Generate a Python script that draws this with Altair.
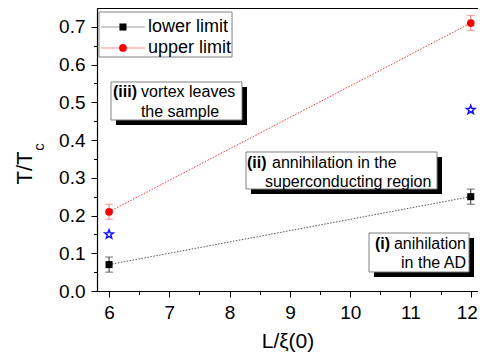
import math
import altair as alt
import pandas as pd

# ---------------- data ----------------
L = [6, 12]
lower = [0.07, 0.25]
lower_err = [0.02, 0.02]
upper = [0.21, 0.71]
upper_err = [0.02, 0.02]
star = [0.15, 0.48]
series_names = ["lower limit", "upper limit"]

x_tick_values = [6 + 0.5 * i for i in range(13)]
y_tick_values = [round(0.05 * i, 2) for i in range(15)]

# annotation boxes (data coordinates)
box_x = [5.833, 6.032, 8.272, 10.312]
box_x2 = [8.040, 8.205, 11.440, 11.971]
box_y = [0.7394, 0.5539, 0.3684, 0.1537]
box_y2 = [0.6201, 0.4532, 0.2703, 0.0504]
box_shadow = [False, True, True, True]

# annotation texts
txt = ["(iii)", "vortex leaves", "the sample",
       "(ii)", "annihilation in the", "superconducting region",
       "(i)", "anihilation", "in the AD",
       "lower limit", "upper limit"]
txt_x = [6.065, 6.530, 7.177, 8.288, 8.703, 8.587, 10.412, 11.921, 11.921, 6.646, 6.646]
txt_y = [0.5274, 0.5274, 0.4744, 0.3392, 0.3392, 0.2889, 0.1246, 0.1246, 0.0742, 0.6996, 0.644]
txt_align = ["left", "left", "center", "left", "left", "left", "left", "right", "right", "left", "left"]
txt_weight = ["bold", "normal", "normal", "bold", "normal", "normal", "bold", "normal", "normal", "normal", "normal"]
txt_size = [16, 16, 16, 16, 16, 16, 16, 16, 16, 18, 18]

# legend sample geometry
leg_y = [0.6996, 0.644]
leg_x0 = 5.866
leg_x1 = 6.596
leg_xm = 6.231

FONT = "Liberation Sans"

# five-pointed star symbol path (unit size)
pts = []
for k in range(10):
    r = 1.0 if k % 2 == 0 else 0.42
    a = -math.pi / 2 + k * math.pi / 5
    pts.append(f"{r * math.cos(a):.3f},{r * math.sin(a):.3f}")
STAR = "M" + " L".join(pts) + " Z"

xs = alt.Scale(domain=[5.8, 12.12], nice=False, zero=False)
ys = alt.Scale(domain=[0, 0.75], nice=False, zero=False)

xaxis = alt.Axis(
    values=x_tick_values, orient="bottom",
    labelExpr="datum.value % 1 === 0 ? format(datum.value, 'd') : ''",
    tickSize={"condition": {"test": "datum.value % 1 === 0", "value": 6}, "value": 3.5},
    labelOffset={"condition": {"test": "datum.value >= 12", "value": -4}, "value": 0},
    title="L/ξ(0)", titleFont=FONT, titleFontSize=21, titleFontWeight="normal",
    titleColor="black", titlePadding=8,
    labelFont=FONT, labelFontSize=19, labelColor="black", labelPadding=6,
    labelFlush=False, labelOverlap=False,
    domainColor="black", domainWidth=1.2, tickColor="black", tickWidth=1, grid=False,
)
yaxis = alt.Axis(
    values=y_tick_values, orient="left",
    labelExpr="abs(datum.value*10 - round(datum.value*10)) < 0.001 ? format(datum.value, '.1f') : ''",
    tickSize={"condition": {"test": "abs(datum.value*10 - round(datum.value*10)) < 0.001", "value": 6},
              "value": 3.5},
    title=None,
    labelFont=FONT, labelFontSize=19, labelColor="black", labelPadding=6,
    labelFlush=False, labelOverlap=False,
    domainColor="black", domainWidth=1.2, tickColor="black", tickWidth=1, grid=False,
)

X = alt.X("x:Q", scale=xs, axis=xaxis)


def Y(field="y"):
    return alt.Y(f"{field}:Q", scale=ys, axis=yaxis)


layers = []

# boxes
boxes = pd.DataFrame({"x": box_x, "x2": box_x2, "y": box_y, "y2": box_y2, "shadow": box_shadow})
layers.append(
    alt.Chart(boxes[boxes["shadow"]]).mark_rect(color="black", xOffset=5, x2Offset=5, yOffset=5, y2Offset=5)
    .encode(x=X, x2="x2:Q", y=Y(), y2="y2:Q")
)
layers.append(
    alt.Chart(boxes).mark_rect(fill="white", stroke="#808080", strokeWidth=1)
    .encode(x=X, x2="x2:Q", y=Y(), y2="y2:Q")
)

styles = {
    "lower limit": dict(vals=lower, err=lower_err, line="#555555", errc="#333333",
                        marker="black", shape="square", size=50, legline="#9a9a9a"),
    "upper limit": dict(vals=upper, err=upper_err, line="#ff3030", errc="#ff7070",
                        marker="#ff0000", shape="circle", size=60, legline="#ff9090"),
}

for i, name in enumerate(series_names):
    s = styles[name]
    df = pd.DataFrame({
        "x": L, "y": s["vals"],
        "lo": [v - e for v, e in zip(s["vals"], s["err"])],
        "hi": [v + e for v, e in zip(s["vals"], s["err"])],
    })
    layers.append(alt.Chart(df).mark_line(color=s["line"], strokeWidth=1, strokeDash=[1.5, 1.5])
                  .encode(x=X, y=Y()))
    layers.append(alt.Chart(df).mark_rule(color=s["errc"], strokeWidth=1)
                  .encode(x=X, y=Y("lo"), y2="hi:Q"))
    caps = pd.DataFrame({"x": L * 2, "y": list(df["lo"]) + list(df["hi"])})
    layers.append(alt.Chart(caps).mark_tick(orient="horizontal", size=8, thickness=1, color=s["errc"])
                  .encode(x=X, y=Y()))
    layers.append(alt.Chart(df).mark_point(shape=s["shape"], filled=True, size=s["size"],
                                           color=s["marker"], opacity=1)
                  .encode(x=X, y=Y()))
    # legend sample
    leg = pd.DataFrame({"x": [leg_x0], "x2": [leg_x1], "y": [leg_y[i]]})
    layers.append(alt.Chart(leg).mark_rule(color=s["legline"], strokeWidth=1)
                  .encode(x=X, x2="x2:Q", y=Y()))
    legm = pd.DataFrame({"x": [leg_xm], "y": [leg_y[i]]})
    layers.append(alt.Chart(legm).mark_point(shape=s["shape"], filled=True, size=s["size"],
                                             color=s["marker"], opacity=1)
                  .encode(x=X, y=Y()))

# stars
sdf = pd.DataFrame({"x": L, "y": star})
layers.append(alt.Chart(sdf).mark_point(shape=STAR, filled=False, stroke="#1010ff",
                                        strokeWidth=1.5, size=80, opacity=1)
              .encode(x=X, y=Y()))

# texts
tdf = pd.DataFrame({"t": txt, "x": txt_x, "y": txt_y, "align": txt_align,
                    "weight": txt_weight, "size": txt_size})
for (al, wt, sz), g in tdf.groupby(["align", "weight", "size"]):
    layers.append(
        alt.Chart(g.reset_index(drop=True)).mark_text(align=al, baseline="middle", font=FONT,
                                                      fontWeight=wt, fontSize=int(sz), color="black")
        .encode(x=X, y=Y(), text="t:N")
    )

# y axis title T/T_c
ytitle = pd.DataFrame({"t": ["T/T"]})
layers.append(alt.Chart(ytitle).mark_text(angle=270, align="center", baseline="middle",
                                          font=FONT, fontSize=22, color="black")
              .encode(x=alt.value(-72), y=alt.value(160), text="t:N"))
ysub = pd.DataFrame({"t": ["c"]})
layers.append(alt.Chart(ysub).mark_text(angle=270, align="center", baseline="middle",
                                        font=FONT, fontSize=15, color="black")
              .encode(x=alt.value(-58), y=alt.value(139), text="t:N"))

chart = alt.layer(*layers).properties(
    width=381, height=283,
    autosize=alt.AutoSizeParams(type="none"),
    padding={"left": 89, "top": 0, "right": 0, "bottom": 61},
    background="white",
).configure_view(stroke="black", strokeWidth=1)

chart.save("out.html", embed_options={"renderer": "svg", "actions": False})
